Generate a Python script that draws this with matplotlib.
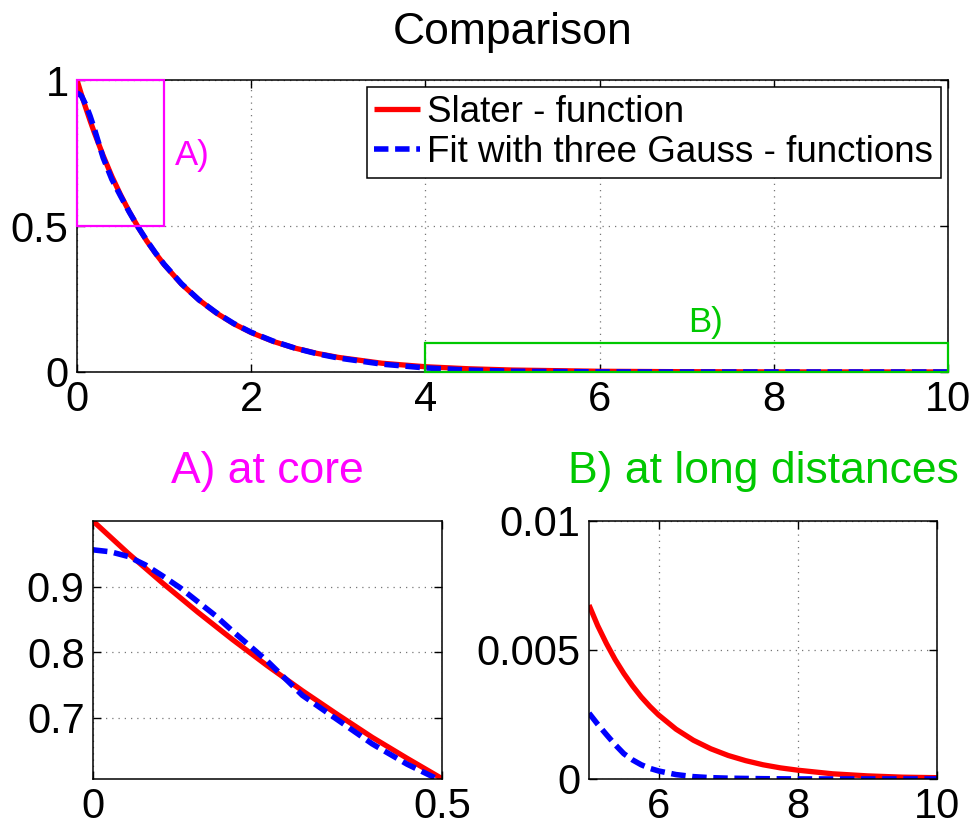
import numpy as np
import matplotlib
matplotlib.use('Agg')
import matplotlib.pyplot as plt
from matplotlib.patches import Rectangle

plt.rcParams['font.family'] = ['Liberation Sans', 'DejaVu Sans']

# overview: Slater function vs 3-Gauss fit
r_all = [0, 0.05, 0.1, 0.15, 0.2, 0.3, 0.4, 0.5, 0.6, 0.7, 0.8, 0.9, 1.0, 1.2, 1.4, 1.6, 1.8,
         2.0, 2.25, 2.5, 2.75, 3.0, 3.5, 4.0, 4.5, 5, 6, 7, 8, 9, 10]
slater_all = [1.0, 0.951, 0.905, 0.861, 0.819, 0.741, 0.670, 0.607, 0.549, 0.497, 0.449, 0.407,
              0.368, 0.301, 0.247, 0.202, 0.165, 0.135, 0.105, 0.082, 0.064, 0.050,
              0.030, 0.018, 0.011, 0.0067, 0.0025, 0.0009, 0.0003, 0.0001, 0.00005]
gauss_all = [0.956, 0.946, 0.916, 0.877, 0.832, 0.734, 0.660, 0.603, 0.548, 0.497, 0.451, 0.408,
             0.369, 0.302, 0.247, 0.203, 0.166, 0.136, 0.106, 0.082, 0.063, 0.048,
             0.027, 0.014, 0.0065, 0.00255, 0.0003, 0.00003, 0.0, 0.0, 0.0]

# A) at core
r_core = [0, 0.05, 0.1, 0.15, 0.2, 0.25, 0.3, 0.35, 0.4, 0.45, 0.5]
slater_core = [1.0, 0.951, 0.905, 0.861, 0.819, 0.779, 0.741, 0.705, 0.670, 0.638, 0.607]
r_core_g = [0, 0.025, 0.05, 0.075, 0.1, 0.125, 0.15, 0.175, 0.2, 0.25, 0.3, 0.35, 0.4, 0.45, 0.5]
gauss_core = [0.956, 0.953, 0.946, 0.933, 0.916, 0.898, 0.877, 0.856, 0.832, 0.786,
              0.734, 0.697, 0.660, 0.629, 0.603]

# B) at long distances
r_far = [5, 5.125, 5.25, 5.375, 5.5, 5.625, 5.75, 5.875, 6, 6.25, 6.5, 6.75, 7,
         7.25, 7.5, 7.75, 8, 8.5, 9, 9.5, 10]
slater_far = [0.00674, 0.00594, 0.00525, 0.00463, 0.00409, 0.00361, 0.00318, 0.00281,
              0.00248, 0.00193, 0.00150, 0.00117, 0.00091, 0.00071, 0.00055, 0.00043,
              0.00034, 0.00020, 0.00012, 0.00007, 0.00005]
r_far_g = [5, 5.125, 5.25, 5.375, 5.5, 5.625, 5.75, 5.875, 6, 6.25, 6.5, 6.75, 7, 7.5, 8, 9, 10]
gauss_far = [0.00255, 0.00212, 0.00172, 0.00133, 0.00098, 0.00074, 0.00055, 0.00041,
             0.00031, 0.00017, 0.00009, 0.00005, 0.00003, 0.00001, 0.0, 0.0, 0.0]

red = '#ff0000'
blue = '#0000ff'
magenta = '#ff00ff'
green = '#00c800'
tick_fs = 30
title_fs = 32


def style(ax):
    ax.tick_params(direction='in', length=6, width=1, labelsize=tick_fs,
                   top=True, right=True, pad=6)
    for s in ax.spines.values():
        s.set_linewidth(1.1)
    ax.grid(True, linestyle=(0, (1, 4)), color='#777777', linewidth=0.9)
    ax.set_axisbelow(True)


def draw(ax, x1, y1, x2, y2):
    ax.plot(x1, y1, color=red, lw=3.8, solid_capstyle='butt')
    ax.plot(x2, y2, color=blue, lw=4.0, dashes=(2.6, 1.2))


fig = plt.figure(figsize=(9.76, 8.25), dpi=100)

ax = fig.add_axes([0.0789, 0.5491, 0.8924, 0.3539])
style(ax)
draw(ax, r_all, slater_all, r_all, gauss_all)
ax.set_xlim(0, 10)
ax.set_ylim(0, 1)
ax.set_xticks([0, 2, 4, 6, 8, 10])
ax.set_yticks([0, 0.5, 1])
ax.set_yticklabels(['0', '0.5', '1'])
ax.add_patch(Rectangle((0, 0.5), 1, 0.5, fill=False, edgecolor=magenta, lw=1.6, clip_on=False, zorder=5))
ax.add_patch(Rectangle((4, 0), 6, 0.1, fill=False, edgecolor=green, lw=1.6, clip_on=False, zorder=5))
ax.text(1.32, 0.743, 'A)', color=magenta, fontsize=25, ha='center', va='center')
ax.text(7.22, 0.171, 'B)', color=green, fontsize=25, ha='center', va='center')
ax.set_title('Comparison', fontsize=title_fs, pad=26)
leg = ax.legend(['Slater - function', 'Fit with three Gauss - functions'],
                loc='upper right', bbox_to_anchor=(1, 1), borderaxespad=0.2,
                fontsize=26.5, fancybox=False, framealpha=1, edgecolor='black',
                handlelength=1.25, handletextpad=0.2, borderpad=0.2, labelspacing=0.15)
leg.get_frame().set_linewidth(1.1)

ax = fig.add_axes([0.0953, 0.0558, 0.3576, 0.3127])
style(ax)
draw(ax, r_core, slater_core, r_core_g, gauss_core)
ax.set_xlim(0, 0.5)
ax.set_ylim(0.6065, 1.0)
ax.set_xticks([0, 0.5])
ax.set_xticklabels(['0', '0.5'])
ax.set_yticks([0.7, 0.8, 0.9])
ax.set_title('A) at core', fontsize=title_fs, color=magenta, pad=27)

ax = fig.add_axes([0.6035, 0.0558, 0.3566, 0.3127])
style(ax)
draw(ax, r_far, slater_far, r_far_g, gauss_far)
ax.set_xlim(5, 10)
ax.set_ylim(0, 0.01)
ax.set_xticks([6, 8, 10])
ax.set_yticks([0, 0.005, 0.01])
ax.set_yticklabels(['0', '0.005', '0.01'])
ax.set_title('B) at long distances', fontsize=title_fs, color=green, pad=27)

fig.savefig('out.png', dpi=100)
